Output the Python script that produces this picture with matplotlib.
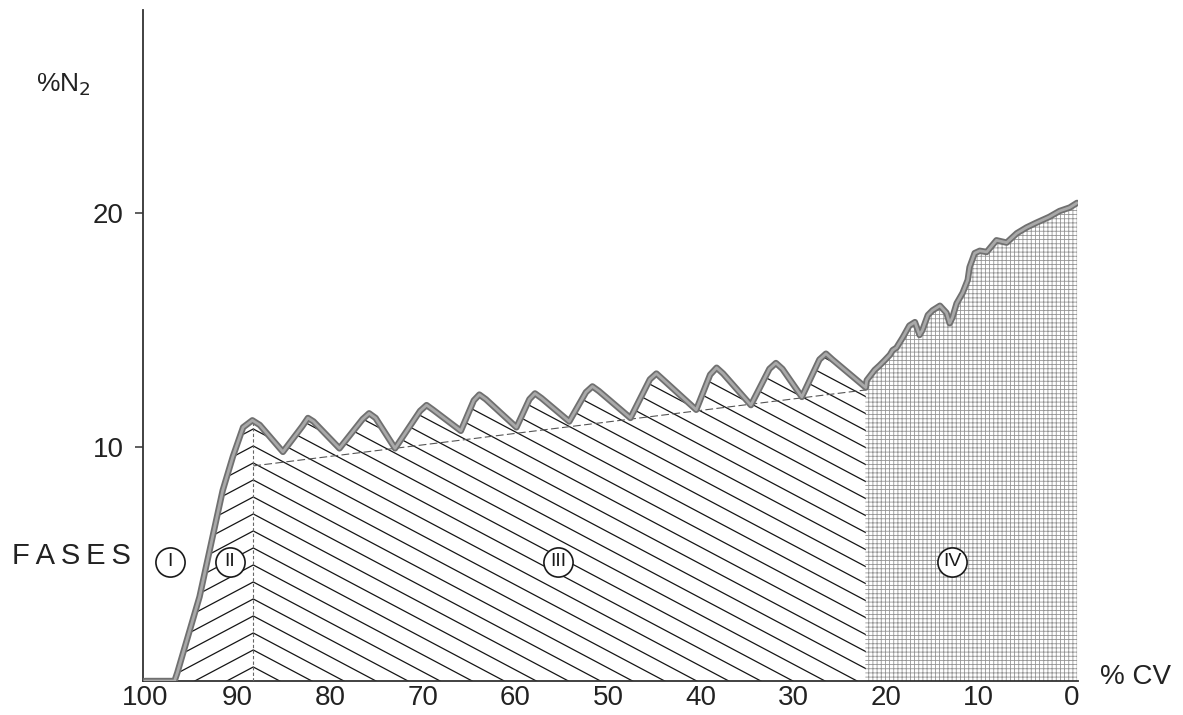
import numpy as np
import matplotlib
matplotlib.use("Agg")
import matplotlib.pyplot as plt
from matplotlib.patches import Polygon
from matplotlib.collections import LineCollection
import matplotlib.patheffects as pe

# ---- data -------------------------------------------------------------
# expired volume (% CV) and nitrogen concentration (% N2)
cv_rise = [100.0, 96.8, 96.5, 94.1, 92.7, 91.6, 90.5, 89.4, 88.4]
n2_rise = [0.0, 0.0, 0.35, 3.6, 6.15, 8.15, 9.6, 10.85, 11.15]

cv_plateau = [87.6, 85.1, 83.0, 82.4, 81.8, 79.0, 76.5, 75.8, 75.1, 73.0,
              70.3, 69.6, 68.9, 65.9, 64.5, 63.9, 63.2, 59.9, 58.5, 57.9,
              57.2, 54.2, 52.4, 51.7, 51.0, 47.6, 45.5, 44.8, 44.1, 40.5,
              39.0, 38.3, 37.6, 34.6, 32.6, 31.9, 31.2, 29.1, 27.2, 26.5,
              25.8, 22.2]
n2_plateau = [10.95, 9.8, 10.9, 11.25, 11.1, 9.95, 11.2, 11.45, 11.25, 9.95,
              11.55, 11.8, 11.6, 10.7, 12.0, 12.25, 12.05, 10.85, 12.05, 12.3,
              12.1, 11.1, 12.35, 12.6, 12.4, 11.25, 12.9, 13.15, 12.9, 11.6,
              13.1, 13.4, 13.15, 11.8, 13.35, 13.6, 13.35, 12.15, 13.75, 14.0,
              13.75, 12.55]

cv_final = [22.1, 21.25, 20.7, 20.2, 19.6, 19.3, 18.9, 18.2, 17.5, 16.9, 16.4,
            16.1, 15.5, 15.0, 14.2, 13.5, 13.15, 12.85, 12.4, 11.75, 11.2, 11.0,
            10.45, 9.9, 9.15, 8.1, 7.0, 5.9, 4.85, 3.8, 2.4, 1.3, 0.2, -0.6]
n2_final = [12.86, 13.3, 13.5, 13.7, 13.95, 14.15, 14.25, 14.7, 15.2, 15.35, 14.8,
            15.0, 15.65, 15.85, 16.05, 15.75, 15.3, 15.55, 16.15, 16.6, 17.15, 17.7,
            18.3, 18.4, 18.35, 18.85, 18.75, 19.15, 19.4, 19.6, 19.85, 20.1, 20.25, 20.45]

# phase limits on the volume axis
phase_start = 96.8      # end of phase I
phase_2_3 = 88.3        # phase II / III limit
phase_3_4 = 22.2        # phase III / IV limit
phase_end = -0.6

# alveolar plateau reference line (start / end)
base_cv = [88.3, 22.2]
base_n2 = [9.2, 12.45]

phase_labels = ["I", "II", "III", "IV"]
phase_label_cv = [97.3, 90.8, 55.4, 12.9]
phase_label_n2 = 5.1

x_ticks = [100, 90, 80, 70, 60, 50, 40, 30, 20, 10, 0]
y_ticks = [10, 20]

# ---- figure -----------------------------------------------------------
plt.rcParams["font.family"] = ["Liberation Sans", "DejaVu Sans"]
plt.rcParams["hatch.linewidth"] = 0.6

W, H = 1183, 715
fig = plt.figure(figsize=(W / 100, H / 100), dpi=100)
ax_l, ax_r, ax_b, ax_t = 143, 1078, 681, 10
ax = fig.add_axes([ax_l / W, (H - ax_b) / H, (ax_r - ax_l) / W, (ax_b - ax_t) / H])
ax.set_xlim(100.2, -0.7)
ax.set_ylim(0, 28.7)

cv = np.array(cv_rise + cv_plateau + cv_final)
n2 = np.array(n2_rise + n2_plateau + n2_final)

def region(cv_hi, cv_lo):
    """Polygon under the curve between two volume limits."""
    order = cv[::-1], n2[::-1]
    inside = (cv < cv_hi) & (cv > cv_lo)
    xs = [cv_hi] + list(cv[inside]) + [cv_lo]
    ys = [np.interp(cv_hi, *order)] + list(n2[inside]) + [np.interp(cv_lo, *order)]
    xs = xs + [cv_lo, cv_hi]
    ys = ys + [0, 0]
    return Polygon(np.column_stack([xs, ys]), closed=True, transform=ax.transData)

# phase IV: fine screen
poly4 = region(phase_3_4 + 0.05, phase_end)
ax.fill(*poly4.get_xy().T, facecolor="white", edgecolor="#959595",
        hatch="++++", linewidth=0, zorder=1)

# phases II and III: chevron hatching meeting on the II/III limit
clip23 = region(phase_start, phase_3_4)
ax_w_px = (ax_r - ax_l) / (100.2 + 0.7)
ax_h_px = (ax_b - ax_t) / 28.7
k = 0.53 * ax_w_px / ax_h_px
step = 17 / ax_h_px
segs = []
for c in np.arange(0.6, 30, step):
    segs.append([(phase_start + 1, c - k * (phase_start + 1 - phase_2_3)),
                 (phase_2_3, c),
                 (phase_3_4 - 1, c - k * (phase_2_3 - phase_3_4 + 1))])
lc = LineCollection(segs, colors="#151515", linewidths=0.9, zorder=2)
ax.add_collection(lc)
lc.set_clip_path(clip23)

# II/III limit and plateau reference line
ax.plot([phase_2_3, phase_2_3], [0, np.interp(phase_2_3, cv[::-1], n2[::-1])],
        color="#666666", lw=0.8, ls=(0, (3, 2)), zorder=3)
ax.plot(base_cv, base_n2, color="#555555", lw=0.8, ls=(0, (7, 3)), zorder=3)

# phase markers
ax.plot(phase_label_cv, [phase_label_n2] * 4, ls="none", marker="o", ms=21,
        mfc="white", mec="#1a1a1a", mew=1.2, zorder=4)
for lab, x in zip(phase_labels, phase_label_cv):
    ax.text(x, phase_label_n2, lab, ha="center", va="center", fontsize=14,
            color="#1a1a1a", zorder=5)

# N2 curve
ax.plot(cv, n2, color="#a9a9a9", lw=2.0, solid_joinstyle="round",
        solid_capstyle="round", zorder=6,
        path_effects=[pe.Stroke(linewidth=4.6, foreground="#707070"), pe.Normal()])

# axes styling
for s in ["top", "right"]:
    ax.spines[s].set_visible(False)
for s in ["left", "bottom"]:
    ax.spines[s].set_color("#333333")
    ax.spines[s].set_linewidth(1.3)
ax.set_xticks(x_ticks)
ax.set_xticklabels([str(t) for t in x_ticks], fontsize=20, color="#222222")
ax.set_yticks(y_ticks)
ax.set_yticklabels([str(t) for t in y_ticks], fontsize=20, color="#222222")
ax.tick_params(axis="x", length=0, pad=3)
ax.tick_params(axis="y", length=6, width=1.1, color="#333333", pad=8)

fig.text(36 / W, 1 - 85 / H, r"%N$_2$", fontsize=19, color="#222222",
         ha="left", va="center")
fig.text(1100 / W, 1 - 677 / H, "% CV", fontsize=20, color="#222222",
         ha="left", va="center")
fig.text(12 / W, 1 - 556 / H, "F\u2009A\u2009S\u2009E\u2009S", fontsize=21,
         color="#222222", ha="left", va="center")

fig.savefig("out.png", dpi=100)
